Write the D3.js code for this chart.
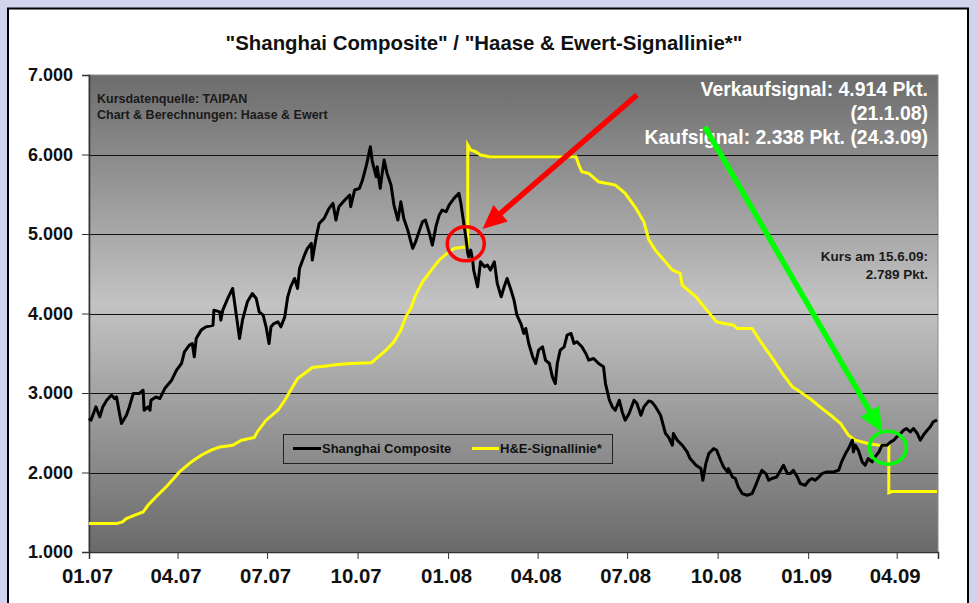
<!DOCTYPE html>
<html><head><meta charset="utf-8">
<script src="https://cdn.jsdelivr.net/npm/d3@7"></script>
<style>
html,body{margin:0;padding:0;background:#d2d3ec;}
svg{display:block;}
text{font-family:"Liberation Sans",Arial,sans-serif;font-weight:bold;}
</style></head>
<body>
<svg id="c" width="977" height="603"></svg>
<script>
const titleText = '"Shanghai Composite" / "Haase & Ewert-Signallinie*"';
const seriesNames = ["Shanghai Composite", "H&E-Signallinie*"];
const yTicks = [1000, 2000, 3000, 4000, 5000, 6000, 7000];
const xTickDates = ["2007-01-01","2007-04-01","2007-07-01","2007-10-01","2008-01-01","2008-04-01","2008-07-01","2008-10-01","2009-01-01","2009-04-01"];

const shanghaiDates = ["2007-01-01","2007-01-03","2007-01-08","2007-01-12","2007-01-15","2007-01-19","2007-01-22","2007-01-24","2007-01-27","2007-01-29",
"2007-02-01","2007-02-03","2007-02-08","2007-02-11","2007-02-15","2007-02-21","2007-02-25","2007-02-26","2007-03-02","2007-03-04",
"2007-03-05","2007-03-10","2007-03-14","2007-03-19","2007-03-26","2007-03-31","2007-04-05","2007-04-08","2007-04-13","2007-04-16",
"2007-04-18","2007-04-20","2007-04-25","2007-04-30","2007-05-07","2007-05-08","2007-05-14","2007-05-15","2007-05-17","2007-05-22",
"2007-05-27","2007-05-31","2007-06-03","2007-06-06","2007-06-11","2007-06-16","2007-06-20","2007-06-23","2007-06-27","2007-06-30",
"2007-07-03","2007-07-05","2007-07-08","2007-07-12","2007-07-15","2007-07-19","2007-07-22","2007-07-25","2007-07-29","2007-08-01",
"2007-08-03","2007-08-08","2007-08-11","2007-08-15","2007-08-16","2007-08-20","2007-08-23","2007-08-28","2007-09-02","2007-09-06",
"2007-09-09","2007-09-12","2007-09-18","2007-09-23","2007-09-24","2007-09-28","2007-10-03","2007-10-06","2007-10-10","2007-10-14",
"2007-10-16","2007-10-20","2007-10-21","2007-10-24","2007-10-26","2007-10-28","2007-10-31","2007-11-04","2007-11-07","2007-11-11",
"2007-11-14","2007-11-17","2007-11-21","2007-11-26","2007-11-29","2007-12-03","2007-12-06","2007-12-09","2007-12-13","2007-12-16",
"2007-12-20","2007-12-23","2007-12-26","2007-12-30","2008-01-02","2008-01-07","2008-01-12","2008-01-14","2008-01-17","2008-01-19",
"2008-01-21","2008-01-22","2008-01-24","2008-01-26","2008-01-27","2008-01-31","2008-02-03","2008-02-07","2008-02-10","2008-02-13",
"2008-02-17","2008-02-20","2008-02-24","2008-02-27","2008-03-01","2008-03-05","2008-03-08","2008-03-11","2008-03-15","2008-03-18",
"2008-03-20","2008-03-23","2008-03-27","2008-03-30","2008-04-02","2008-04-06","2008-04-09","2008-04-13","2008-04-16","2008-04-19",
"2008-04-21","2008-04-24","2008-04-28","2008-05-01","2008-05-05","2008-05-08","2008-05-11","2008-05-16","2008-05-20","2008-05-23",
"2008-05-28","2008-06-02","2008-06-07","2008-06-09","2008-06-13","2008-06-16","2008-06-19","2008-06-23","2008-06-26","2008-06-29",
"2008-07-03","2008-07-08","2008-07-11","2008-07-15","2008-07-18","2008-07-23","2008-07-26","2008-07-30","2008-08-04","2008-08-09",
"2008-08-12","2008-08-16","2008-08-17","2008-08-21","2008-08-26","2008-08-31","2008-09-03","2008-09-09","2008-09-14","2008-09-16",
"2008-09-19","2008-09-22","2008-09-27","2008-09-30","2008-10-04","2008-10-07","2008-10-11","2008-10-12","2008-10-16","2008-10-19",
"2008-10-22","2008-10-26","2008-10-31","2008-11-05","2008-11-08","2008-11-12","2008-11-15","2008-11-19","2008-11-22","2008-11-25",
"2008-11-30","2008-12-04","2008-12-07","2008-12-11","2008-12-14","2008-12-17","2008-12-21","2008-12-24","2008-12-29","2009-01-02",
"2009-01-05","2009-01-08","2009-01-12","2009-01-15","2009-01-20","2009-01-27","2009-02-01","2009-02-04","2009-02-08","2009-02-11",
"2009-02-15","2009-02-16","2009-02-18","2009-02-21","2009-02-25","2009-02-28","2009-03-03","2009-03-07","2009-03-10","2009-03-14",
"2009-03-17","2009-03-22","2009-03-26","2009-03-29","2009-04-01","2009-04-05","2009-04-08","2009-04-11","2009-04-15","2009-04-18",
"2009-04-22","2009-04-25","2009-04-28","2009-05-02","2009-05-05","2009-05-08","2009-05-12"];
const shanghaiValues = [2680,2658,2825,2700,2825,2909,2951,2972,2930,2951,
2742,2616,2720,2825,2994,2994,3035,2783,2825,2783,
2909,2951,2930,3056,3161,3287,3371,3517,3602,3623,
3455,3686,3791,3832,3853,4042,4021,3916,4042,4189,
4315,3958,3686,3916,4147,4252,4189,4021,3979,3832,
3623,3832,3874,3895,3832,3958,4210,4335,4441,4315,
4567,4734,4818,4881,4672,4965,5133,5196,5322,5385,
5175,5343,5427,5490,5343,5553,5574,5679,5867,6097,
5909,5720,5846,5574,5762,5930,5762,5616,5364,5175,
5406,5196,5049,4818,4902,5049,5154,5175,5007,4860,
5112,5238,5301,5280,5364,5448,5511,5385,5133,4965,
4756,4714,4797,4672,4546,4336,4650,4588,4609,4546,
4650,4378,4210,4336,4441,4294,4168,3979,3874,3749,
3812,3623,3455,3371,3539,3581,3413,3371,3203,3119,
3371,3539,3581,3728,3749,3623,3644,3581,3497,3413,
3434,3371,3329,3119,2909,2825,2783,2909,2762,2658,
2742,2909,2867,2720,2825,2900,2888,2825,2720,2490,
2447,2343,2490,2406,2343,2259,2175,2091,2049,1902,
2112,2238,2301,2280,2154,2070,2007,2049,1944,1924,
1818,1735,1714,1735,1818,1944,2028,1986,1902,1924,
1944,2028,2091,1986,1986,2028,1944,1861,1840,1902,
1924,1902,1944,1986,2007,2007,2028,2133,2238,2301,
2406,2259,2343,2280,2133,2091,2175,2133,2196,2259,
2343,2343,2385,2406,2447,2490,2532,2553,2511,2553,
2490,2406,2469,2532,2573,2636,2658];

const signalDates = ["2007-01-01","2007-01-29","2007-02-04","2007-02-08","2007-02-16","2007-02-25","2007-03-02","2007-03-10","2007-03-22","2007-04-03",
"2007-04-15","2007-04-25","2007-05-05","2007-05-14","2007-05-27","2007-06-05","2007-06-18","2007-06-21","2007-06-30","2007-07-12",
"2007-07-19","2007-07-27","2007-08-01","2007-08-08","2007-08-16","2007-08-28","2007-09-11","2007-09-24","2007-10-15","2007-10-20",
"2007-10-30","2007-11-07","2007-11-14","2007-11-19","2007-11-24","2007-11-29","2007-12-06","2007-12-15","2007-12-23","2007-12-31",
"2008-01-07","2008-01-14","2008-01-21","2008-01-21","2008-01-24","2008-01-29","2008-02-03","2008-02-12","2008-05-10","2008-05-13",
"2008-05-16","2008-05-23","2008-06-02","2008-06-19","2008-06-29","2008-07-10","2008-07-18","2008-07-23","2008-07-30","2008-08-06",
"2008-08-16","2008-08-24","2008-08-26","2008-09-09","2008-09-20","2008-09-30","2008-10-17","2008-10-21","2008-11-05","2008-11-15",
"2008-11-27","2008-12-06","2008-12-16","2008-12-24","2009-01-05","2009-01-13","2009-01-24","2009-02-03","2009-02-11","2009-02-18",
"2009-03-03","2009-03-14","2009-03-24","2009-03-24","2009-03-27","2009-05-12"];
const signalValues = [1357,1357,1378,1420,1462,1503,1588,1692,1840,2007,
2133,2217,2280,2322,2343,2406,2440,2510,2658,2783,
2909,3077,3182,3245,3321,3337,3358,3371,3380,3434,
3539,3644,3791,3958,4063,4231,4398,4546,4672,4756,
4818,4831,4839,6119,6056,6035,5993,5972,5972,5867,
5783,5762,5657,5616,5511,5322,5154,4930,4790,4693,
4546,4504,4357,4210,4042,3895,3853,3812,3812,3623,
3413,3245,3077,3014,2909,2825,2720,2616,2469,2406,
2364,2343,2343,1745,1760,1760];

const sellSignal = {date: "2008-01-21", value: 4914, label: ["Verkaufsignal: 4.914 Pkt.", "(21.1.08)"]};
const buySignal  = {date: "2009-03-24", value: 2338, label: "Kaufsignal: 2.338 Pkt. (24.3.09)"};
const sourceLines = ["Kursdatenquelle: TAIPAN", "Chart & Berechnungen: Haase & Ewert"];
const lastQuote = ["Kurs am 15.6.09:", "2.789 Pkt."];

const parse = d3.utcParse("%Y-%m-%d");
const svg = d3.select("#c");
const W = 977, H = 603;

// frame
svg.append("rect").attr("x",0).attr("y",0).attr("width",W).attr("height",H).attr("fill","#d2d3ec");
svg.append("rect").attr("x",8).attr("y",8.5).attr("width",960).attr("height",H).attr("fill","#fff")
  .attr("stroke","#000").attr("stroke-width",2);

const x = d3.scaleUtc().domain([parse("2007-01-01"), parse("2009-05-13")]).range([89, 938]);
const y = d3.scaleLinear().domain([1000, 7000]).range([552, 75]);

const defs = svg.append("defs");
const grad = defs.append("linearGradient").attr("id","bg").attr("x1",0).attr("y1",0).attr("x2",0).attr("y2",1);
grad.append("stop").attr("offset","0%").attr("stop-color","#6c6c6c");
grad.append("stop").attr("offset","48%").attr("stop-color","#c3c3c3");
grad.append("stop").attr("offset","100%").attr("stop-color","#6a6a6a");

const [x0, x1] = x.range();
svg.append("rect").attr("x",x0).attr("y",y(7000)).attr("width",x1-x0).attr("height",y(1000)-y(7000))
  .attr("fill","url(#bg)").attr("stroke","#8a8a8a").attr("stroke-width",1);

// gridlines
svg.append("g").selectAll("line").data(yTicks.filter(v => v>1000 && v<7000)).join("line")
  .attr("x1",x0).attr("x2",x1).attr("y1",d=>Math.round(y(d))+0.5).attr("y2",d=>Math.round(y(d))+0.5)
  .attr("stroke","#111").attr("stroke-width",1);

const loc = d3.formatLocale({decimal:",", thousands:".", grouping:[3], currency:["","€"]});
const fmt = loc.format(",d");

const ya = svg.append("g").attr("transform",`translate(${x0},0)`)
  .call(d3.axisLeft(y).tickValues(yTicks).tickFormat(fmt).tickSize(7).tickPadding(9));
ya.select(".domain").attr("stroke","#333").attr("stroke-width",1.5);
ya.selectAll(".tick line").attr("stroke","#333");
ya.selectAll("text").attr("font-size",18).attr("fill","#111").style("font-family",'"Liberation Sans",Arial,sans-serif').style("font-weight","bold");

const xa = svg.append("g").attr("transform",`translate(0,${y(1000)})`)
  .call(d3.axisBottom(x).tickValues(xTickDates.map(parse)).tickFormat(d3.utcFormat("%m.%y")).tickSize(7).tickPadding(10));
xa.select(".domain").attr("stroke","#333").attr("stroke-width",1.5);
xa.selectAll(".tick line").attr("stroke","#333");
xa.selectAll("text").attr("font-size",20).attr("fill","#111").attr("dx",-2)
  .attr("textLength",51).attr("lengthAdjust","spacingAndGlyphs")
  .style("font-family",'"Liberation Sans",Arial,sans-serif').style("font-weight","bold");

// series
const line = d3.line().x(d=>x(d[0])).y(d=>y(d[1]));
const sig = signalDates.map((d,i)=>[parse(d), signalValues[i]]);
const sh = shanghaiDates.map((d,i)=>[parse(d), shanghaiValues[i]]);
svg.append("path").datum(sig).attr("d",line).attr("fill","none").attr("stroke","#ffff00").attr("stroke-width",3).attr("stroke-linejoin","miter");
svg.append("path").datum(sh).attr("d",line).attr("fill","none").attr("stroke","#000").attr("stroke-width",3).attr("stroke-linejoin","round");

// title
svg.append("text").attr("x",484).attr("y",50).attr("text-anchor","middle").attr("font-size",20.4).attr("fill","#111").text(titleText);

// source text
svg.append("g").selectAll("text").data(sourceLines).join("text")
  .attr("x",97).attr("y",(d,i)=>102.5+i*16.5).attr("font-size",12.5).attr("fill","#1a1a1a").text(d=>d);

// signal labels
svg.append("text").attr("x",928).attr("y",96).attr("text-anchor","end").attr("font-size",19.4).attr("fill","#fff").text(sellSignal.label[0]);
svg.append("text").attr("x",928).attr("y",120).attr("text-anchor","end").attr("font-size",19.4).attr("fill","#fff").text(sellSignal.label[1]);
svg.append("text").attr("x",928).attr("y",144).attr("text-anchor","end").attr("font-size",19.4).attr("fill","#fff").text(buySignal.label);

svg.append("g").selectAll("text").data(lastQuote).join("text")
  .attr("x",928).attr("y",(d,i)=>261+i*17.5).attr("text-anchor","end").attr("font-size",13.5).attr("fill","#1a1a1a").text(d=>d);

// legend
const lg = svg.append("g");
lg.append("rect").attr("x",283.5).attr("y",434.5).attr("width",329).attr("height",29).attr("fill","none").attr("stroke","#222").attr("stroke-width",1);
lg.append("line").attr("x1",293).attr("x2",321).attr("y1",448.5).attr("y2",448.5).attr("stroke","#000").attr("stroke-width",3);
lg.append("text").attr("x",322).attr("y",453).attr("font-size",13).attr("fill","#111").text(seriesNames[0]);
lg.append("line").attr("x1",472).attr("x2",499).attr("y1",448.5).attr("y2",448.5).attr("stroke","#ffff00").attr("stroke-width",3);
lg.append("text").attr("x",500).attr("y",453).attr("font-size",13).attr("fill","#111").text(seriesNames[1]);

// annotations
function arrow(sx, sy, tx, ty, color) {
  const ang = Math.atan2(ty-sy, tx-sx);
  const L = 24, Wd = 11;
  const bx = tx - L*Math.cos(ang), by = ty - L*Math.sin(ang);
  svg.append("line").attr("x1",sx).attr("y1",sy).attr("x2",bx+2*Math.cos(ang)).attr("y2",by+2*Math.sin(ang))
    .attr("stroke",color).attr("stroke-width",5.5);
  const px = -Math.sin(ang), py = Math.cos(ang);
  svg.append("polygon").attr("points",[[tx,ty],[bx+px*Wd,by+py*Wd],[bx-px*Wd,by-py*Wd]].map(p=>p.join(",")).join(" "))
    .attr("fill",color);
}
const sellX = x(parse(sellSignal.date)), sellY = y(sellSignal.value);
const buyX = x(parse(buySignal.date)), buyY = y(buySignal.value);
svg.append("ellipse").attr("cx",sellX-2).attr("cy",sellY+3).attr("rx",18.5).attr("ry",17).attr("fill","none").attr("stroke","#ff0000").attr("stroke-width",3.5);
arrow(x(parse("2008-07-11")), y(6748), x(parse("2008-02-05")), y(5063), "#ff0000");
svg.append("ellipse").attr("cx",buyX-1).attr("cy",buyY+2).attr("rx",18.5).attr("ry",16.5).attr("fill","none").attr("stroke","#00ff00").attr("stroke-width",3.5);
arrow(x(parse("2008-09-18")), y(6346), x(parse("2009-03-17")), y(2509), "#00ff00");
</script>
</body></html>
